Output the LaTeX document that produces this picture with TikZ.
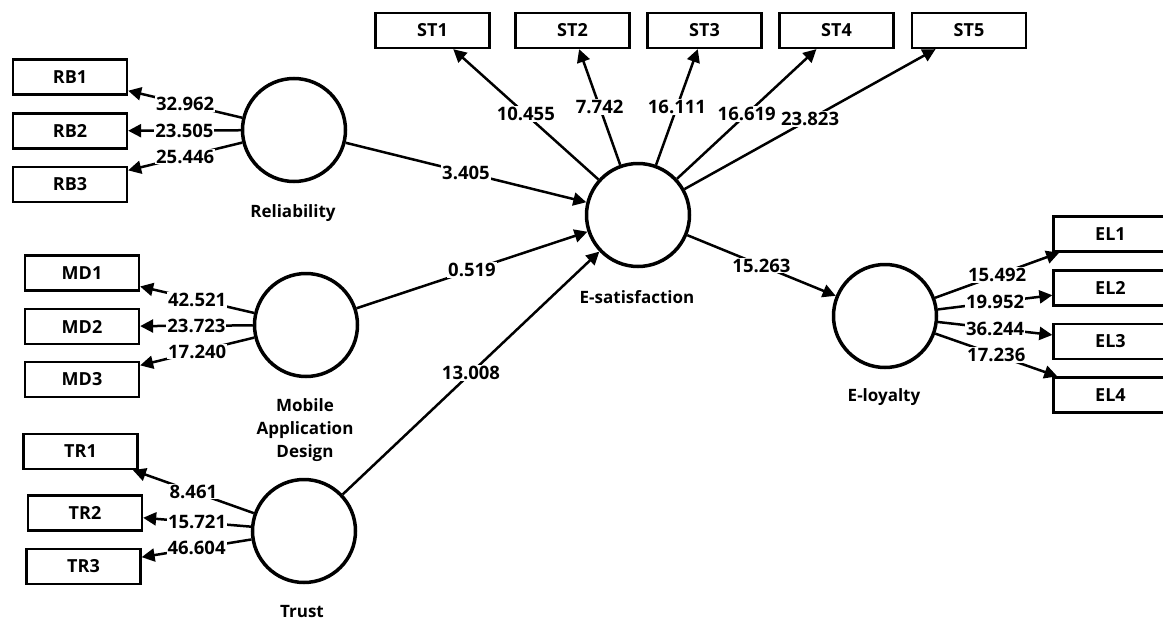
\documentclass[tikz,border=0pt]{standalone}
\usepackage{fontspec}
\setmainfont{Open Sans}
\usetikzlibrary{arrows.meta}
\begin{document}
\begin{tikzpicture}[x=1pt,y=-1pt,
  every node/.style={font=\fontsize{17}{23}\selectfont\bfseries, text=black},
  ind/.style={draw, line width=2.3pt, minimum width=114pt, minimum height=35pt, inner sep=0pt, font=\fontsize{18}{23}\selectfont\bfseries},
  lat/.style={draw, circle, line width=3.5pt, minimum size=103pt, inner sep=0pt},
  arr/.style={line width=2.5pt, -{Triangle[length=13pt,width=13pt]}},
  lab/.style={fill=white, inner sep=1pt, font=\fontsize{18.5}{23}\selectfont\bfseries},
  lvname/.style={align=center, inner sep=0pt}]
\useasboundingbox (0,0) rectangle (1163,624);
% latent variables
\node[lat] (rel) at (294,130) {};
\node[lat] (md) at (306,325) {};
\node[lat] (tr) at (304,531) {};
\node[lat] (esat) at (638,215) {};
\node[lat] (eloy) at (885,316) {};
\node[lvname] (relL) at (293,213) {Reliability};
\node[lvname] (mdL) at (305,430) {Mobile\\Application\\Design};
\node[lvname] (trL) at (302,612) {Trust};
\node[lvname] (esatL) at (637,297) {E-satisfaction};
\node[lvname] (eloyL) at (884,397) {E-loyalty};
% indicators
\node[ind] (RB1) at (70,77) {RB1};
\node[ind] (RB2) at (70,131) {RB2};
\node[ind] (RB3) at (70,184.5) {RB3};
\node[ind] (MD1) at (82,273) {MD1};
\node[ind] (MD2) at (82,326.5) {MD2};
\node[ind] (MD3) at (82,379.5) {MD3};
\node[ind] (TR1) at (80.5,451.5) {TR1};
\node[ind] (TR2) at (85,513) {TR2};
\node[ind] (TR3) at (83.5,566.5) {TR3};
\node[ind] (ST1) at (432.5,30.5) {ST1};
\node[ind] (ST2) at (572.5,30.5) {ST2};
\node[ind] (ST3) at (704.5,30.5) {ST3};
\node[ind] (ST4) at (836.5,30.5) {ST4};
\node[ind] (ST5) at (969,30.5) {ST5};
\node[ind] (EL1) at (1110.5,234) {EL1};
\node[ind] (EL2) at (1110.5,288) {EL2};
\node[ind] (EL3) at (1110.5,341.5) {EL3};
\node[ind] (EL4) at (1110.5,395) {EL4};
% outer loadings
\draw[arr] (rel) -- (RB1) node[midway,lab]{32.962};
\draw[arr] (rel) -- (RB2) node[midway,lab]{23.505};
\draw[arr] (rel) -- (RB3) node[midway,lab]{25.446};
\draw[arr] (md) -- (MD1) node[midway,lab]{42.521};
\draw[arr] (md) -- (MD2) node[midway,lab]{23.723};
\draw[arr] (md) -- (MD3) node[midway,lab]{17.240};
\draw[arr] (tr) -- (TR1) node[midway,lab]{8.461};
\draw[arr] (tr) -- (TR2) node[midway,lab]{15.721};
\draw[arr] (tr) -- (TR3) node[midway,lab]{46.604};
\draw[arr] (esat) -- (ST1) node[midway,lab]{10.455};
\draw[arr] (esat) -- (ST2) node[midway,lab]{7.742};
\draw[arr] (esat) -- (ST3) node[midway,lab]{16.111};
\draw[arr] (esat) -- (ST4) node[midway,lab]{16.619};
\draw[arr] (esat) -- (ST5) node[midway,lab]{23.823};
\draw[arr] (eloy) -- (EL1) node[midway,lab]{15.492};
\draw[arr] (eloy) -- (EL2) node[midway,lab]{19.952};
\draw[arr] (eloy) -- (EL3) node[midway,lab]{36.244};
\draw[arr] (eloy) -- (EL4) node[midway,lab]{17.236};
% inner paths
\draw[arr] (rel) -- (esat) node[midway,lab]{3.405};
\draw[arr] (md) -- (esat) node[midway,lab]{0.519};
\draw[arr] (tr) -- (esat) node[midway,lab]{13.008};
\draw[arr] (esat) -- (eloy) node[midway,lab]{15.263};
\end{tikzpicture}
\end{document}
